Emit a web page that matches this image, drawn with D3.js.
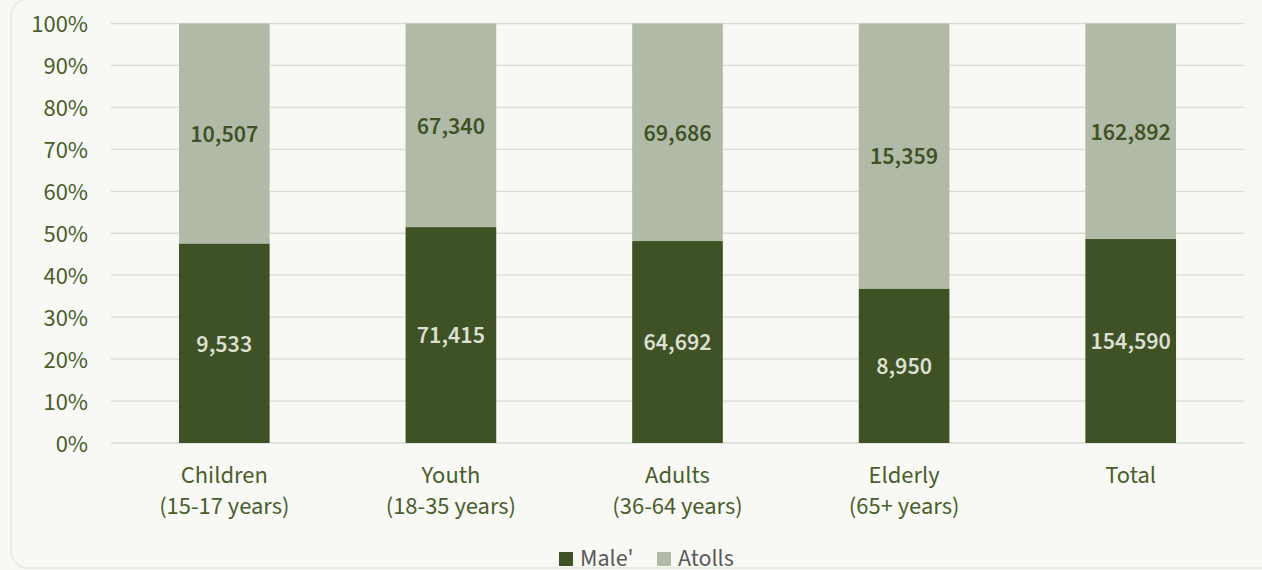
<!DOCTYPE html>
<html><head><meta charset="utf-8">
<script src="https://cdn.jsdelivr.net/npm/d3@7"></script>
<style>
html,body{margin:0;padding:0;background:#f8f8f4;}
svg{display:block;font-family:"Source Sans Pro","Source Sans 3",Lato,"Noto Sans",sans-serif;}
</style></head>
<body><svg id="c" width="1262" height="570"></svg>
<script>
const categories = [["Children","(15-17 years)"],["Youth","(18-35 years)"],["Adults","(36-64 years)"],["Elderly","(65+ years)"],["Total"]];
const maleValues = [9533, 71415, 64692, 8950, 154590];
const atollValues = [10507, 67340, 69686, 15359, 162892];
const seriesNames = ["Male'", "Atolls"];
const yTicks = [0,0.1,0.2,0.3,0.4,0.5,0.6,0.7,0.8,0.9,1];

const W=1262,H=570;
const m={left:111,right:18,top:23.5,bottom:127};
const svg=d3.select("#c");
svg.append("rect").attr("x",11).attr("y",-1).attr("width",1300).attr("height",569).attr("rx",17)
  .attr("fill","#f8f8f4").attr("stroke","#e7ede0").attr("stroke-width",2);

const x=d3.scaleBand().domain(d3.range(categories.length)).range([m.left,W-m.right]).paddingInner(0.6).paddingOuter(0.3);
const y=d3.scaleLinear().domain([0,1]).range([H-m.bottom,m.top]);

const g=svg.append("g");
g.selectAll("line.grid").data(yTicks).join("line").attr("class","grid")
  .attr("x1",m.left).attr("x2",W-m.right).attr("y1",d=>y(d)).attr("y2",d=>y(d))
  .attr("stroke","#dcdcd6").attr("stroke-width",1.3);
g.selectAll("text.yt").data(yTicks).join("text").attr("class","yt")
  .attr("x",88).attr("y",d=>y(d)).attr("dy","0.35em").attr("text-anchor","end")
  .attr("font-size",24.5).attr("fill","#4a5e2d").text(d=>d3.format(".0%")(d));

const data=categories.map((c,i)=>({i,male:maleValues[i],atoll:atollValues[i],tot:maleValues[i]+atollValues[i]}));
const fmt=d3.format(",");
g.selectAll("rect.m").data(data).join("rect").attr("class","m")
  .attr("x",d=>x(d.i)).attr("width",x.bandwidth())
  .attr("y",d=>y(d.male/d.tot)).attr("height",d=>y(0)-y(d.male/d.tot)).attr("fill","#3e5225");
g.selectAll("rect.a").data(data).join("rect").attr("class","a")
  .attr("x",d=>x(d.i)).attr("width",x.bandwidth())
  .attr("y",d=>y(1)).attr("height",d=>y(d.male/d.tot)-y(1)).attr("fill","#b1baa7");
g.selectAll("text.ml").data(data).join("text").attr("class","ml")
  .attr("x",d=>x(d.i)+x.bandwidth()/2).attr("y",d=>(y(0)+y(d.male/d.tot))/2).attr("dy","0.35em")
  .attr("text-anchor","middle").attr("font-size",24).attr("font-weight",600).attr("fill","#dcdfd2").text(d=>fmt(d.male));
g.selectAll("text.al").data(data).join("text").attr("class","al")
  .attr("x",d=>x(d.i)+x.bandwidth()/2).attr("y",d=>(y(1)+y(d.male/d.tot))/2).attr("dy","0.35em")
  .attr("text-anchor","middle").attr("font-size",24).attr("font-weight",600).attr("fill","#3e5225").text(d=>fmt(d.atoll));
const cl=g.selectAll("text.cl").data(categories).join("text").attr("class","cl")
  .attr("x",(d,i)=>x(i)+x.bandwidth()/2).attr("y",483).attr("text-anchor","middle")
  .attr("font-size",24.5).attr("fill","#4a5e2d");
cl.selectAll("tspan").data(d=>d).join("tspan").attr("x",function(){return this.parentNode.getAttribute("x");})
  .attr("dy",(d,j)=>j?31:0).text(d=>d);
const lg=svg.append("g");
const lcolors=["#3e5225","#b1baa7"];
const lx=[559,657];
seriesNames.forEach((s,i)=>{
  lg.append("rect").attr("x",lx[i]).attr("y",552).attr("width",14).attr("height",14).attr("fill",lcolors[i]);
  lg.append("text").attr("x",lx[i]+21).attr("y",566).attr("font-size",24).attr("fill","#5a5a5a").text(s);
});
</script></body></html>
